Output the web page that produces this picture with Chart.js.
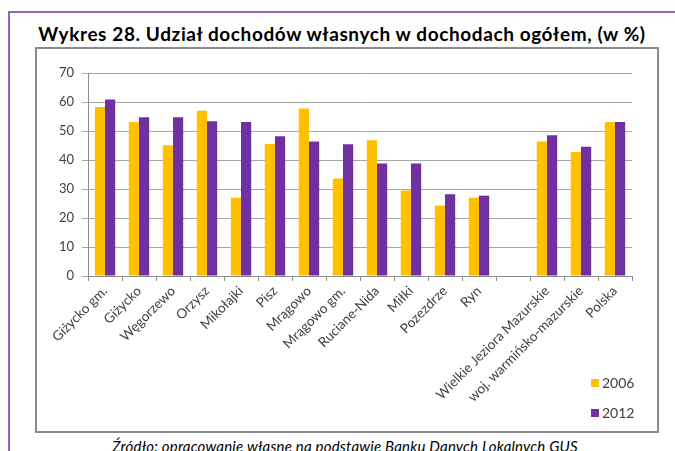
<!DOCTYPE html>
<html lang="pl">
<head>
<meta charset="utf-8">
<title>Wykres 28</title>
<script src="https://cdn.jsdelivr.net/npm/chart.js@4.4.0/dist/chart.umd.min.js"></script>
<style>
  html, body { margin: 0; padding: 0; background: #fff; }
  body { width: 675px; height: 451px; position: relative; overflow: hidden; font-family: Lato, "Open Sans", sans-serif; }
  .frame { position: absolute; left: 8px; top: 11px; width: 720px; height: 500px; border: 2px solid #8c64c8; box-sizing: border-box; }
  .title { position: absolute; left: 0; top: 22px; width: 684px; text-align: center; font-weight: bold; font-size: 19px; letter-spacing: 0.6px; color: #000; white-space: nowrap; }
  .box { position: absolute; left: 35px; top: 47px; width: 624px; height: 386px; border: 2px solid #8c8c8c; box-sizing: border-box; }
  .box canvas { display: block; }
  .source { position: absolute; left: 0; top: 437px; width: 690px; text-align: center; font-style: italic; font-size: 15px; letter-spacing: 0.2px; color: #000; white-space: nowrap; }
</style>
</head>
<body>
<div class="frame"></div>
<div class="title">Wykres 28. Udział dochodów własnych w dochodach ogółem, (w %)</div>
<div class="box"><canvas id="chart" width="620" height="382"></canvas></div>
<div class="source">Źródło: opracowanie własne na podstawie Banku Danych Lokalnych GUS</div>

<script>
const categories = [
    'Giżycko gm.', 'Giżycko', 'Węgorzewo', 'Orzysz', 'Mikołajki', 'Pisz',
    'Mrągowo', 'Mrągowo gm.', 'Ruciane-Nida', 'Miłki', 'Pozezdrze', 'Ryn',
    '', 'Wielkie Jeziora Mazurskie', 'woj. warmińsko-mazurskie', 'Polska'
];
const years = ['2006', '2012'];
const values2006 = [58.3, 53.1, 45.1, 57.0, 27.0, 45.5, 57.8, 33.6, 46.8, 29.5, 24.3, 27.0, null, 46.4, 42.8, 53.1];
const values2012 = [60.9, 54.7, 54.7, 53.4, 53.1, 48.2, 46.4, 45.4, 38.8, 38.8, 28.2, 27.7, null, 48.5, 44.6, 53.1];
const yTicks = [0, 10, 20, 30, 40, 50, 60, 70];
const colors = ['#ffc000', '#7030a0'];

// small legend in the bottom-right corner, under the plot
const cornerLegend = {
    id: 'cornerLegend',
    afterDraw(chart) {
        const ctx = chart.ctx;
        ctx.save();
        ctx.font = '14px Lato, sans-serif';
        ctx.textBaseline = 'middle';
        chart.data.datasets.forEach((ds, i) => {
            const y = 334 + i * 30;
            ctx.fillStyle = ds.backgroundColor;
            ctx.fillRect(554, y - 4, 8, 8);
            ctx.fillStyle = '#404040';
            ctx.fillText(ds.label, 565, y);
        });
        ctx.restore();
    }
};

const ctx = document.getElementById('chart').getContext('2d');
const chart = new Chart(ctx, {
    type: 'bar',
    data: {
        labels: categories,
        datasets: [
            { label: years[0], data: values2006, backgroundColor: colors[0] },
            { label: years[1], data: values2012, backgroundColor: colors[1] }
        ]
    },
    options: {
        responsive: false,
        animation: false,
        categoryPercentage: 0.6,
        barPercentage: 1,
        layout: { padding: { top: 24, right: 25, left: 0, bottom: 0 } },
        plugins: {
            legend: { display: false },
            tooltip: { enabled: false }
        },
        scales: {
            x: {
                grid: { offset: true, drawOnChartArea: false, tickLength: 5, color: '#8c8c8c' },
                border: { color: '#8c8c8c' },
                ticks: {
                    minRotation: 45, maxRotation: 45, autoSkip: false,
                    color: '#404040', font: { family: 'Lato', size: 13.5 }, padding: 2
                },
                afterFit(scale) { scale.height = 155; }
            },
            y: {
                min: 0, max: 70,
                afterBuildTicks(scale) { scale.ticks = yTicks.map(v => ({ value: v })); },
                grid: { color: '#a6a6a6', tickLength: 6 },
                border: { color: '#8c8c8c' },
                ticks: { color: '#404040', font: { family: 'Lato', size: 13 }, padding: 8 },
                afterFit(scale) { scale.width = 51; }
            }
        }
    },
    plugins: [cornerLegend]
});
</script>
</body>
</html>
